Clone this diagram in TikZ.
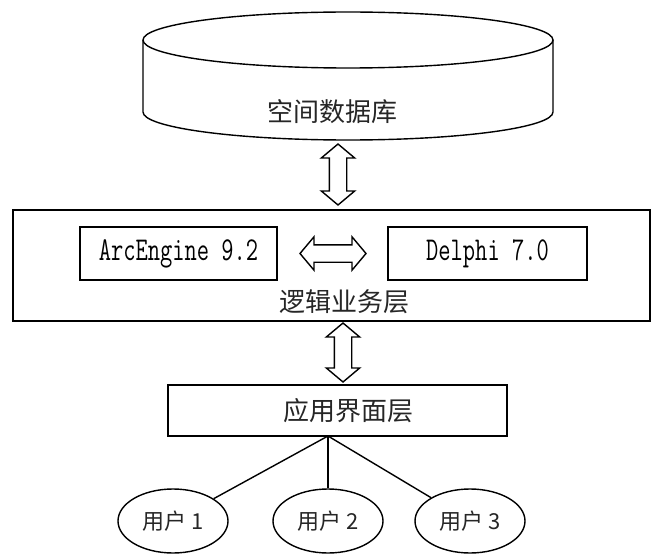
\documentclass[tikz,border=0pt]{standalone}
\usepackage{fontspec}
\usetikzlibrary{shapes.arrows,shapes.geometric}
\newfontfamily\cjk{Noto Sans CJK SC}
\newcommand\latinlbl[1]{\scalebox{1}[1.4]{\ttfamily\fontsize{23.8}{25}\selectfont #1}}
\begin{document}
\begin{tikzpicture}[x=1pt,y=-1pt,line width=1.4pt,
  box/.style={draw,rectangle,inner sep=0pt},
  lbl/.style={inner sep=0pt,text=black!85,font=\cjk\fontsize{26}{28}\selectfont},
  ulbl/.style={inner sep=0pt,text=black!85,font=\cjk\fontsize{22}{24}\selectfont},
  dblarrow/.style={draw,double arrow,double arrow head extend=8pt,double arrow tip angle=100,inner xsep=0pt,inner ysep=8pt},
  user/.style={draw,ellipse,minimum width=110pt,minimum height=64pt,inner sep=0pt}]
\useasboundingbox (0,0) rectangle (653,559);
% database cylinder
\draw[fill=white] (143,40) -- (143,112) arc[start angle=180,end angle=360,x radius=205pt,y radius=28pt] -- (553,40);
\draw (348,40) ellipse [x radius=205pt,y radius=28pt];
\node[lbl] (db) at (332,112) {空间数据库};
% arrow db <-> logic
\node[dblarrow,rotate=90,minimum height=61pt] (a1) at (338,174.5) {};
% logic layer
\node[box,minimum width=637pt,minimum height=111pt] (logic) at (331.5,265.5) {};
\node[box,minimum width=197pt,minimum height=53pt] (arc) at (178.5,253.5) {\latinlbl{ArcEngine 9.2}};
\node[box,minimum width=199pt,minimum height=53pt] (delphi) at (487.5,253.5) {\latinlbl{Delphi 7.0}};
\node[dblarrow,minimum height=66pt] (ah) at (333,253.5) {};
\node[lbl] (logiclbl) at (344,302) {逻辑业务层};
% arrow logic <-> ui
\node[dblarrow,rotate=90,minimum height=59pt] (a2) at (343,352.5) {};
% ui layer
\node[box,minimum width=339pt,minimum height=51pt] (ui) at (337.5,410.5) {};
\node[lbl] (uilbl) at (348,410.5) {应用界面层};
\coordinate (j) at (328,436);
% users
\node[user] (u1) at (173,521) {};
\node[user] (u2) at (328,521) {};
\node[user] (u3) at (470,521) {};
\node[ulbl] (u1l) at (173,521) {用户 1};
\node[ulbl] (u2l) at (328,521) {用户 2};
\node[ulbl] (u3l) at (470,521) {用户 3};
\draw (j) -- (u1);
\draw (j) -- (u2);
\draw (j) -- (u3);
\end{tikzpicture}
\end{document}
